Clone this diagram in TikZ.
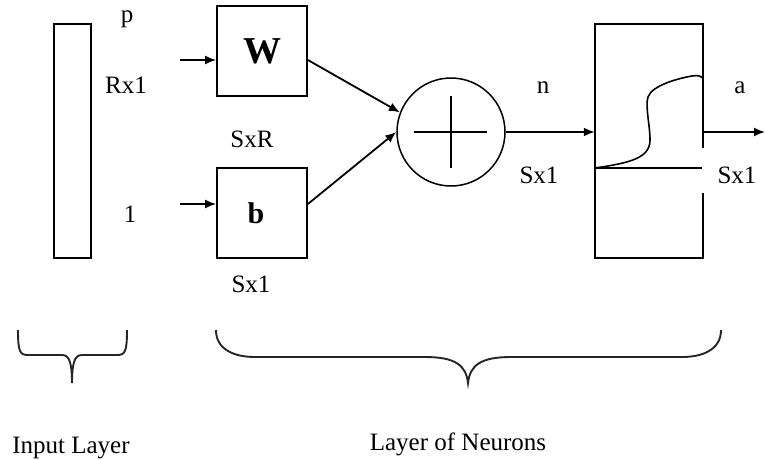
\documentclass[tikz,border=0pt]{standalone}
\usepackage{fontspec}
\setmainfont{Liberation Serif}
\usetikzlibrary{arrows.meta}

\tikzset{
  txt/.style={anchor=base, inner sep=0pt, font=\fontsize{25}{30}\selectfont},
  line/.style={line width=1.8pt},
  arr/.style={line width=1.8pt, -{Latex[length=11pt,width=9pt]}},
  blockbox/.style={draw, line width=1.8pt, minimum width=90pt, minimum height=90pt, inner sep=0pt},
  brace/.style={line width=1.9pt, draw=black!85},
}

\begin{document}
\begin{tikzpicture}[x=1pt,y=-1pt]
  \useasboundingbox (0,0) rectangle (765,459);

  % input vector
  \node[draw, line width=1.8pt, minimum width=37pt, minimum height=234pt, inner sep=0pt] (inp) at (72.5,141) {};
  \node[txt] (lp) at (127,22) {p};
  \node[txt] (lR) at (126,93) {Rx1};
  \node[txt] (lone) at (130,222) {1};

  % weight matrix and bias
  \node[blockbox, font=\fontsize{38}{40}\selectfont\bfseries] (W) at (262,51) {\raisebox{-2pt}{W}};
  \node[blockbox, font=\fontsize{30}{32}\selectfont\bfseries] (b) at (262,213) {\hspace*{-12pt}b};
  \node[txt] (lSxR) at (252,147) {SxR};
  \node[txt] (lSb) at (251,292) {Sx1};

  % summing junction
  \node[draw, circle, line width=1.5pt, minimum size=108pt, inner sep=0pt] (sum) at (451,132) {};
  \draw[line width=1.6pt] ([xshift=-37pt]sum.center) -- ([xshift=36pt]sum.center);
  \draw[line width=1.6pt] ([yshift=-36pt]sum.center) -- ([yshift=36pt]sum.center);
  \node[txt] (ln) at (543,93) {n};
  \node[txt] (lSn) at (539,183) {Sx1};

  % transfer function block (right side open between 148 and 193)
  \node[minimum width=108pt, minimum height=234pt, inner sep=0pt] (tf) at (649,141) {};
  \draw[line] (tf.east |- 0,148) -- (tf.north east) -- (tf.north west)
              -- (tf.south west) -- (tf.south east) -- (tf.east |- 0,193);
  \draw[line] (tf.west |- 0,168) -- ([xshift=-1pt]tf.east |- 0,168);
  \draw[line width=1.6pt] (tf.west |- 0,168)
      .. controls (630,163) and (650,158) .. (650,140)
      .. controls (650,125) and (645,106) .. (648,97)
      .. controls (652,85) and (680,78) .. (692,76)
      .. controls (698,75) and (701,76) .. (tf.east |- 0,78);
  \node[txt] (la) at (740,93) {a};
  \node[txt] (lSa) at (737,183) {Sx1};

  % connectors
  \coordinate (pin) at (180,60);
  \coordinate (bin) at (180,204);
  \coordinate (aout) at (765,132);
  \draw[arr] (pin) -- (pin -| W.west);
  \draw[arr] (bin) -- (bin -| b.west);
  \draw[arr] (W.east |- pin) -- (sum.159);
  \draw[arr] (b.east |- bin) -- (sum.180);
  \draw[arr] (sum.east) -- (sum.east -| tf.west);
  \draw[arr] (sum.east -| tf.east) -- (aout);

  % layer braces
  \draw[brace] (18,330) .. controls (18,352) and (20,355) .. (28,355) -- (62,355)
      .. controls (69,355) and (72,362) .. (72,383)
      .. controls (72,362) and (75,355) .. (82,355) -- (117,355)
      .. controls (125,355) and (127,352) .. (127,330);
  \draw[brace] (216,330) .. controls (216,350) and (235,357) .. (255,357) -- (425,357)
      .. controls (455,357) and (466,365) .. (468,383)
      .. controls (470,365) and (481,357) .. (511,357) -- (682,357)
      .. controls (702,357) and (721,350) .. (721,330);
  \node[txt] (lin) at (71,453) {Input Layer};
  \node[txt] (lneur) at (458,450) {Layer of Neurons};
\end{tikzpicture}
\end{document}
